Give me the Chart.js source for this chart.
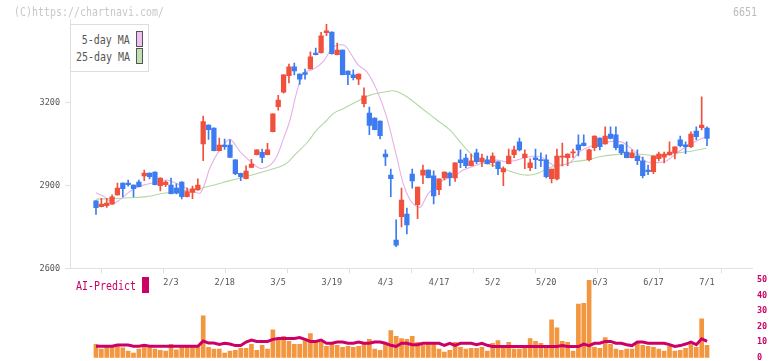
<!DOCTYPE html>
<html>
<head>
<meta charset="utf-8">
<script src="https://cdn.jsdelivr.net/npm/chart.js@4.4.1/dist/chart.umd.min.js"></script>
<style>
html,body{margin:0;padding:0;background:#fff;width:772px;height:361px;overflow:hidden;}
body{position:relative;font-family:"DejaVu Sans Mono",monospace;}
canvas{position:absolute;left:0;}
.t{position:absolute;white-space:nowrap;font-size:12px;line-height:14px;transform:scaleX(0.83);}
.tl{transform-origin:left center;}
.tr{transform-origin:right center;text-align:right;}
.sw{position:absolute;box-sizing:border-box;border:1px solid #555;}
</style>
</head>
<body>
<canvas id="cA" width="772" height="300" style="top:0"></canvas>
<canvas id="cB" width="772" height="100" style="top:270px"></canvas>

<div class="t tl" style="left:14px;top:5px;color:#c8c8c8">(C)https://chartnavi.com/</div>
<div class="t tr" style="right:15px;top:5px;color:#bbb">6651</div>

<div style="position:absolute;left:70px;top:24px;width:79px;height:48px;box-sizing:border-box;border:1px solid #ddd;background:#fff"></div>
<div class="t tr" style="right:642px;top:33px;color:#555">5-day MA</div>
<div class="t tr" style="right:642px;top:50px;color:#555">25-day MA</div>
<div class="sw" style="left:136px;top:31px;width:7px;height:16px;background:#f0c0f0"></div>
<div class="sw" style="left:136px;top:48px;width:7px;height:16px;background:#c0e0b0"></div>

<div class="t tl" style="left:76px;top:279px;color:#cc0066">AI-Predict</div>
<div style="position:absolute;left:142px;top:277px;width:7px;height:16px;background:#cc0066"></div>

<script>
// ---------- data ----------
const tickIndex  = [14, 24, 34, 44, 54, 64, 74, 84, 94, 104, 114];
const tickLabels = ['2/3','2/18','3/5','3/19','4/3','4/17','5/2','5/20','6/3','6/17','7/1'];
const priceTicks = [2600, 2900, 3200];
const volTicks   = [0, 10, 20, 30, 40, 50];

const open = [2844,2823,2826,2832,2865,2908,2908,2901,2912,2934, 2944,2948,2899,2902,2901,2890,2912,2859,2874,2883,
  3050,3118,3107,3025,3045,3045,2992,2943,2924,2965, 3011,3019,3011,3094,3184,3237,3296,3328,3302,3307,
  3321,3378,3379,3452,3454,3372,3389,3313,3299,3284, 3195,3161,3143,3132,3013,2937,2702,2787,2796,2941,
  2830,2937,2955,2934,2884,2927,2944,2927,2992,2998, 2971,3017,2985,2992,2982,2985,2948,2978,3011,3057,
  3000,2964,2999,2993,2992,2924,2923,3002,3000,3017, 3046,3053,2993,3036,3071,3050,3085,3082,3046,3020,
  3000,3006,2988,2955,2949,2996,3002,3010,3017,3064, 3046,3040,3096,3108,3107];
const high = [2845,2853,2853,2866,2908,2909,2919,2902,2919,2955, 2945,2949,2927,2916,2926,2905,2913,2890,2897,2923,
  3150,3119,3108,3071,3067,3064,2993,2944,2970,2994, 3028,3031,3052,3158,3225,3299,3338,3342,3303,3320,
  3382,3396,3453,3482,3455,3414,3390,3314,3317,3303, 3252,3183,3144,3133,3028,2959,2775,2890,2818,2959,
  2894,2973,2956,2952,2923,2949,2948,2981,3028,3013, 3013,3031,3013,3006,3017,2986,2967,3031,3042,3071,
  3028,2996,3031,3017,3010,2959,3031,3053,3014,3031, 3082,3082,3031,3079,3072,3111,3111,3111,3047,3057,
  3028,3028,3002,2973,3006,3020,3020,3057,3039,3078, 3057,3093,3111,3220,3111];
const low = [2795,2822,2820,2831,2864,2858,2897,2858,2894,2917, 2923,2901,2880,2895,2869,2869,2851,2858,2852,2882,
  2989,3066,3024,3024,3030,3000,2938,2917,2923,2964, 3010,2982,3010,3093,3172,3233,3270,3299,3265,3284,
  3320,3371,3378,3441,3374,3371,3299,3264,3281,3264, 3183,3083,3100,3068,2971,2859,2678,2750,2724,2890,
  2779,2906,2927,2833,2866,2919,2899,2914,2964,2964, 2970,2978,2967,2977,2967,2938,2899,2977,3000,3024,
  2960,2953,2960,2967,2927,2909,2919,2970,2971,3000, 3006,3042,2988,3025,3028,3049,3068,3028,3011,2999,
  2999,2975,2927,2938,2942,2988,2981,3009,2995,3039, 3014,3036,3065,3100,3043];
const close = [2819,2832,2836,2858,2890,2888,2902,2888,2895,2944, 2931,2902,2926,2912,2870,2872,2859,2877,2887,2901,
  3130,3101,3025,3045,3040,3001,2942,2931,2951,2977, 3028,3001,3028,3158,3208,3299,3328,3313,3284,3301,
  3364,3372,3440,3458,3376,3389,3300,3300,3289,3302, 3223,3116,3101,3079,3003,2924,2684,2847,2757,2916,
  2894,2955,2928,2862,2923,2948,2928,2981,2982,2971, 2988,2985,2998,2978,3006,2960,2960,3006,3028,3028,
  3013,2981,2993,2989,2931,2959,3006,3006,3013,3019, 3028,3043,3028,3078,3040,3078,3069,3036,3017,3000,
  3017,2989,2935,2949,3006,3013,3013,3020,3039,3043, 3040,3085,3076,3118,3069];

// 5-day MA: positions (trading-day index) and values
const ma5Pos = [0,1.5,3.2,4.5,6.3,7.9,9.5,11.3,13.2,15,17.5,19.5,21.3,23.1,25,26.9,30,30.9,32.5,33.7,
  34.9,36.2,37.4,38.7,40.5,42.4,44,45.2,46.5,47.7,48.9,50.5,52.4,54.2,56.1,57.3,58.6,59.8,60.6,62,
  63.6,64.8,66.7,68.5,71,72.9,74.8,76.6,78.5,80.3,82.2,83.5,85.3,87.2,88.4,90.3,92.2,94,95.9,97.8,
  99,100.9,102.7,104.6,106.5,108.3,110.2,112.1,114];
const ma5Val = [2873,2859,2835,2849,2877,2895,2904,2912,2919,2907,2884,2873,2965,3028,3066,3021,2967,2961,2973,3003,
  3064,3136,3233,3305,3319,3347,3395,3407,3404,3371,3335,3311,3244,3148,3003,2907,2847,2823,2822,2871,
  2895,2919,2931,2955,2973,2985,2991,2985,2991,3001,3006,2998,2973,2975,2981,3022,3040,3049,3058,3058,
  3046,3016,2985,2982,2989,3016,3040,3061,3077];
// 25-day MA
const ma25Pos = [0,3.2,6.3,9.5,12.6,15.7,18.8,21.9,25,28.1,31.2,34.3,35.6,37.4,39.3,41.2,43.1,44.3,46.2,48.6,
  51.1,54.9,56.1,58,61,63.6,66,67.9,69.8,71.6,74.1,76.6,79.1,81,82.8,84.7,87.2,89,91.5,94,
  96.5,99,101.5,104,106.5,109,111.5,113.9];
const ma25Val = [2850,2852,2855,2859,2871,2879,2886,2900,2917,2932,2949,2967,2980,3016,3052,3100,3136,3160,3178,3202,
  3226,3241,3239,3220,3175,3136,3100,3058,3016,2985,2973,2955,2940,2937,2946,2965,2973,2985,2991,3003,
  3010,3013,3012,3008,3012,3018,3025,3034];

const volume = [8.6,5.5,7.1,7.1,8,6.3,4.2,2.9,5.5,6.7, 6.3,5.5,4.8,4.2,8.6,5,6.7,7.1,7.1,7.1,
  26.9,6.7,5.5,5.5,2.9,4.2,4.8,6.1,6.1,8.6, 4.8,8,5.5,18,12.6,13.7,10.5,8.6,8.6,11.1,
  15.5,9.9,9.9,7.4,8.6,8,6.7,7.4,6.7,7.4, 8.6,11.8,5.5,4.8,8.6,17.4,13.7,12.4,11.8,13.7,
  9.9,8,8.6,8.6,5.5,3.6,4.8,9.9,6.7,5.5, 6.1,6.1,6.7,4.2,9.2,11.1,7.4,9.9,5.5,5.5,
  7.4,12.4,10.5,9.2,7,24.4,19.3,10.5,9.9,4.2, 34.5,35,52,6.7,6.1,13,8.6,5.5,4.8,5.5,
  5.5,9.2,8,7.4,6.7,5.5,4.2,7.4,4.2,4.8, 6.1,8.6,6.7,25,8];
const aiPredict = [7.4,7.4,7.4,7.4,8.2,8.2,8.2,7.4,7.4,8, 7.4,7.4,7.4,7.4,7.4,7.4,7.4,7.4,7.4,7.4,
  10.7,9.4,9.4,8.6,9.3,8.8,7.8,7.8,10.1,11.4, 10.5,10.5,10.5,11.8,12.4,12.4,12.4,12.4,13,11.8,
  10.5,10.5,11.4,9.3,9.3,10.1,10.1,9.3,9.3,10.1, 9.3,9.3,10.1,10.1,9.3,8,7.2,9.3,9.3,8.4,
  8.4,9.3,9.3,9.3,9.3,8,9.3,8,9.3,9.3, 9.3,8.4,9.3,8,7.2,7.2,7.2,7.2,7.2,7.2,
  7.2,7.2,7.2,7.2,7.2,7.2,7.2,7.8,7.2,7.2, 7.2,8.8,7.8,9.3,9.3,10.5,10.5,9.3,9.3,8.4,
  7.8,10.1,10.1,9.3,9.3,9.3,9.3,8.4,7.2,7.8, 8.8,10.1,8.4,12.2,10.5];

// ---------- chart ----------
const FONT = '"DejaVu Sans Mono", "Liberation Mono", monospace';
const RED = '#f0503c', BLUE = '#3c7cf0';
const X_MIN = -4.85, X_MAX = 122.39;
const idx = close.map((_, i) => i);
const candleColors = idx.map(i => close[i] >= open[i] ? RED : BLUE);

new Chart(document.getElementById('cA'), {
  type: 'bar',
  data: {
    datasets: [
      { label: 'body', data: idx.map(i => ({ x: i, y: [open[i], close[i]] })),
        backgroundColor: candleColors, barThickness: 4.6, minBarLength: 1, grouped: false,
        order: 0, xAxisID: 'x', yAxisID: 'y' },
      { label: 'wick', data: idx.map(i => ({ x: i, y: [low[i], high[i]] })),
        backgroundColor: candleColors, barThickness: 1, grouped: false,
        order: 1, xAxisID: 'x', yAxisID: 'y' },
      { type: 'line', label: '5-day MA', data: ma5Pos.map((p, k) => ({ x: p, y: ma5Val[k] })),
        borderColor: '#e6b0e6', borderWidth: 1.1, pointRadius: 0, tension: 0.3,
        order: 2, xAxisID: 'x', yAxisID: 'y' },
      { type: 'line', label: '25-day MA', data: ma25Pos.map((p, k) => ({ x: p, y: ma25Val[k] })),
        borderColor: '#b2d9a2', borderWidth: 1.1, pointRadius: 0, tension: 0.3,
        order: 3, xAxisID: 'x', yAxisID: 'y' }
    ]
  },
  options: {
    responsive: false, animation: false, events: [],
    layout: { padding: { left: 0, right: 20, top: 19.3, bottom: 0 } },
    plugins: { legend: { display: false }, tooltip: { enabled: false } },
    scales: {
      x: {
        type: 'linear', axis: 'x', position: 'bottom', min: X_MIN, max: X_MAX, offset: false, weight: 1,
        grid: { display: false, drawTicks: false }, border: { display: false },
        afterBuildTicks: s => { s.ticks = tickIndex.map(v => ({ value: v })); },
        afterFit: s => { s.height = 25.7; },
        ticks: { autoSkip: false, maxRotation: 0, padding: 3.6, color: '#555',
          font: { family: FONT, size: 8.5 },
          callback: v => { const k = tickIndex.indexOf(v); return k >= 0 ? tickLabels[k] : ''; } }
      },
      xt: {
        type: 'linear', axis: 'x', position: 'bottom', min: 0, max: 11, offset: false, weight: 0,
        ticks: { display: false, stepSize: 1 },
        grid: { drawOnChartArea: false, drawTicks: true, tickLength: 5, color: '#e0e0e0' },
        border: { display: true, color: '#e0e0e0' },
        afterFit: s => { s.height = 6; }
      },
      y: {
        type: 'linear', position: 'left', min: 2600, max: 3500,
        afterBuildTicks: s => { s.ticks = priceTicks.map(v => ({ value: v })); },
        afterFit: s => { s.width = 70; },
        grid: { drawOnChartArea: false, tickLength: 5, color: '#e0e0e0' },
        border: { display: true, color: '#e0e0e0' },
        ticks: { padding: 5, color: '#555', font: { family: FONT, size: 8.5 },
          callback: v => String(v) }
      }
    }
  }
});

new Chart(document.getElementById('cB'), {
  type: 'bar',
  data: {
    datasets: [
      { type: 'line', label: 'AI-Predict', data: idx.map(i => ({ x: i, y: aiPredict[i] })),
        borderColor: '#cc0066', borderWidth: 3, pointRadius: 0, tension: 0,
        order: 0, xAxisID: 'x', yAxisID: 'y' },
      { label: 'volume', data: idx.map(i => ({ x: i, y: volume[i] })),
        backgroundColor: '#f2963f', barThickness: 4, grouped: false,
        order: 1, xAxisID: 'x', yAxisID: 'y' }
    ]
  },
  options: {
    responsive: false, animation: false, events: [],
    layout: { padding: { left: 70, right: 0, top: 8.3, bottom: 12.3 } },
    plugins: { legend: { display: false }, tooltip: { enabled: false } },
    scales: {
      x: { type: 'linear', min: X_MIN, max: X_MAX, offset: false, display: false },
      y: {
        type: 'linear', position: 'right', min: 0, max: 50,
        afterBuildTicks: s => { s.ticks = volTicks.map(v => ({ value: v })); },
        afterFit: s => { s.width = 20; },
        grid: { display: false, drawTicks: false }, border: { display: false },
        ticks: { padding: 5, color: '#cc0066', font: { family: FONT, size: 8.5, weight: 'bold' },
          callback: v => String(v) }
      }
    }
  }
});
</script>
</body>
</html>
